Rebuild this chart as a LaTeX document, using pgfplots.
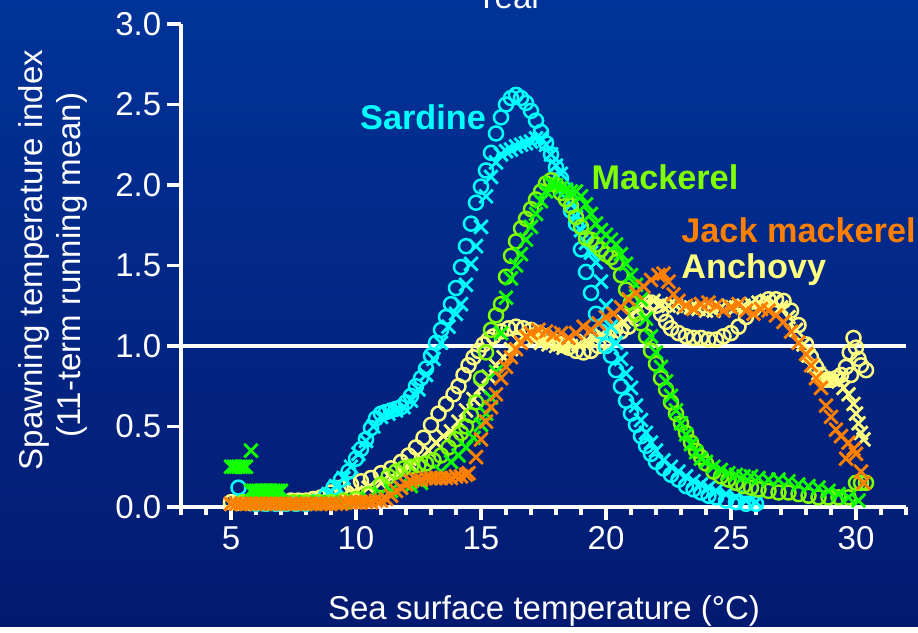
\documentclass[border=0pt]{standalone}
\usepackage{fontspec}
\setmainfont{Liberation Sans}
\usepackage{pgfplots}
\pgfplotsset{compat=1.18}
\definecolor{bgtop}{RGB}{0,51,153}
\definecolor{bgbot}{RGB}{4,26,112}
\definecolor{sard}{RGB}{0,255,255}
\definecolor{mackc}{RGB}{128,255,0}
\definecolor{mackx}{RGB}{20,255,0}
\definecolor{jack}{RGB}{255,128,0}
\definecolor{anch}{RGB}{255,255,128}
\newcommand{\tfont}{\fontsize{18.8}{23}\selectfont}
\newcommand{\lfont}{\fontsize{19.5}{23}\selectfont\bfseries}
\pgfplotsset{
  circ/.style={only marks, mark=o, mark size=4.0pt, line width=1.4pt},
  crs/.style={only marks, mark=x, mark size=5.4pt, line width=1.6pt},
}
\begin{document}
\begin{tikzpicture}
\shade[top color=bgtop, bottom color=bgbot] (0,0) rectangle (18.36,12.54);
\begin{axis}[
  at={(3.62cm,2.40cm)}, anchor=south west,
  scale only axis, width=14.5cm, height=9.66cm,
  xmin=3, xmax=32, ymin=0, ymax=3,
  axis lines*=left,
  axis line style={white, line width=2pt, -},
  xtick={5,10,...,30}, minor xtick={3,4,...,32},
  ytick={0,0.5,...,3.0},
  tick align=outside,
  major tick length=0.27cm, minor tick length=0.17cm,
  tick style={white, line width=2pt},
  minor tick style={white, line width=2pt},
  ticklabel style={white, font=\tfont},
  /pgf/number format/assume math mode=true,
  yticklabel style={/pgf/number format/.cd, fixed, fixed zerofill, precision=1},
  clip=false,
  mark options={solid},
]
\draw[white, line width=2pt] (axis cs:3,1) -- (axis cs:32,1);
% Anchovy circles
\addplot[circ, anch] coordinates {
(5.0,0.03)(5.3,0.03)(5.6,0.03)(5.9,0.03)(6.2,0.03)(6.5,0.03)(6.8,0.03)(7.1,0.03)(7.4,0.04)(7.7,0.04)(8.0,0.04)(8.3,0.05)(8.6,0.06)(9.0,0.09)(9.4,0.12)(9.8,0.14)
(10.2,0.16)(10.6,0.18)(11.0,0.21)(11.4,0.24)(11.8,0.28)(12.1,0.32)(12.4,0.37)(12.7,0.43)(13.0,0.51)(13.3,0.58)
(13.6,0.64)(13.9,0.70)(14.1,0.75)(14.3,0.82)(14.5,0.88)(14.7,0.93)(14.9,0.97)(15.1,1.01)(15.3,1.04)(15.5,1.06)
(15.8,1.09)(16.1,1.11)(16.4,1.12)(16.7,1.11)(17.0,1.10)(17.3,1.08)(17.6,1.06)(17.9,1.03)(18.2,1.01)(18.5,0.99)
(18.8,0.97)(19.1,0.96)(19.4,0.97)(19.7,1.00)(20.0,1.03)(20.3,1.06)(20.6,1.09)(20.9,1.12)(21.2,1.17)(21.5,1.23)
(21.8,1.27)(22.0,1.25)(22.2,1.20)(22.4,1.15)(22.6,1.11)(22.9,1.08)(23.2,1.06)(23.5,1.05)(23.8,1.05)(24.1,1.04)
(24.4,1.04)(24.7,1.06)(25.0,1.08)(25.3,1.12)(25.6,1.18)(25.9,1.23)(26.2,1.27)(26.5,1.29)(26.8,1.29)(27.1,1.28)
(27.4,1.22)(27.7,1.13)(28.0,1.01)(28.2,0.93)(28.4,0.87)(28.6,0.82)(28.8,0.79)(29.0,0.79)(29.2,0.80)(29.4,0.82)
(29.6,0.87)(29.75,0.96)(29.9,1.05)(30.0,0.99)(30.1,0.92)(30.2,0.88)(30.4,0.85)(29.8,0.82)
};
% Anchovy crosses
\addplot[crs, anch] coordinates {
(5.0,0.02)(5.5,0.02)(6.0,0.02)(6.5,0.02)(7.0,0.03)(7.5,0.03)(8.0,0.03)(8.5,0.04)(9.0,0.05)(9.5,0.07)(10.0,0.09)
(10.5,0.12)(11.0,0.15)(11.4,0.18)(11.8,0.22)(12.2,0.26)(12.6,0.30)(12.9,0.35)(13.2,0.40)(13.5,0.44)(13.8,0.47)
(14.1,0.53)(14.4,0.60)(14.7,0.67)(15.0,0.74)(15.3,0.81)(15.6,0.88)(15.9,0.93)(16.2,0.98)(16.5,1.03)(16.8,1.05)
(17.1,1.04)(17.4,1.02)(17.7,1.01)(18.0,1.00)(18.3,0.99)(18.6,1.00)(18.9,1.01)(19.2,1.03)(19.5,1.05)(19.8,1.07)
(20.1,1.09)(20.4,1.12)(20.7,1.15)(21.0,1.19)(21.3,1.23)(21.6,1.27)(21.9,1.28)(22.2,1.26)(22.5,1.25)(22.8,1.25)
(23.1,1.24)(23.4,1.24)(23.7,1.23)(24.0,1.22)(24.3,1.22)(24.6,1.24)(24.9,1.25)(25.2,1.24)(25.5,1.25)(25.8,1.26)
(26.1,1.27)(26.4,1.28)(26.7,1.27)(27.0,1.24)(27.3,1.18)(27.6,1.10)(27.9,1.01)(28.1,0.94)(28.3,0.88)(28.5,0.83)
(28.7,0.80)(28.9,0.79)(29.1,0.79)(29.3,0.78)(29.5,0.74)(29.7,0.70)(29.9,0.64)(30.0,0.58)(30.1,0.52)(30.2,0.46)(30.3,0.42)
};
% Sardine circles
\addplot[circ, sard] coordinates {
(5.3,0.12)(5.6,0.03)(6.0,0.02)(6.4,0.02)(6.8,0.02)(7.2,0.02)(7.6,0.02)(8.0,0.02)(8.4,0.03)(8.8,0.07)(9.1,0.12)
(9.4,0.17)(9.7,0.22)(10.0,0.30)(10.2,0.36)(10.4,0.42)(10.6,0.49)(10.8,0.55)(11.0,0.58)(11.2,0.59)(11.4,0.60)
(11.6,0.61)(11.8,0.62)(12.0,0.65)(12.2,0.69)(12.4,0.75)(12.6,0.80)(12.8,0.86)(13.0,0.94)(13.2,1.02)(13.4,1.10)
(13.6,1.18)(13.8,1.26)(14.0,1.36)(14.2,1.49)(14.4,1.62)(14.6,1.76)(14.8,1.89)(15.0,1.99)(15.2,2.09)(15.4,2.20)
(15.6,2.32)(15.8,2.42)(16.0,2.50)(16.2,2.54)(16.4,2.56)(16.6,2.54)(16.8,2.51)(17.0,2.46)(17.2,2.40)(17.4,2.33)
(17.6,2.26)(17.8,2.19)(18.0,2.11)(18.2,2.04)(18.4,1.97)(18.6,1.84)(18.8,1.76)(19.0,1.60)(19.2,1.46)(19.4,1.33)
(19.6,1.20)(19.8,1.09)(20.0,1.00)(20.2,0.94)(20.4,0.85)(20.6,0.75)(20.8,0.66)(21.0,0.58)(21.2,0.51)(21.4,0.44)
(21.6,0.38)(21.8,0.33)(22.0,0.28)(22.3,0.24)(22.6,0.20)(22.9,0.17)(23.2,0.13)(23.5,0.11)(23.8,0.09)(24.1,0.07)
(24.4,0.06)(24.8,0.04)(25.2,0.03)(25.6,0.02)(26.0,0.02)
};
% Sardine crosses
\addplot[crs, sard] coordinates {
(5.5,0.03)(6.0,0.02)(6.5,0.02)(7.0,0.02)(7.5,0.02)(8.0,0.02)(8.5,0.03)(8.9,0.08)(9.2,0.13)(9.5,0.18)(9.8,0.25)
(10.1,0.33)(10.4,0.41)(10.7,0.50)(11.0,0.56)(11.3,0.58)(11.6,0.60)(11.9,0.62)(12.2,0.66)(12.5,0.73)(12.8,0.82)
(13.1,0.92)(13.4,1.02)(13.7,1.12)(14.0,1.20)(14.2,1.26)(14.4,1.38)(14.6,1.51)(14.8,1.62)(15.0,1.74)(15.2,1.93)
(15.4,2.05)(15.6,2.14)(15.8,2.19)(16.0,2.21)(16.2,2.22)(16.4,2.24)(16.6,2.25)(16.8,2.26)(17.0,2.27)(17.2,2.29)
(17.4,2.29)(17.6,2.25)(17.8,2.19)(18.0,2.12)(18.2,2.07)(18.4,1.97)(18.6,1.88)(18.8,1.80)(19.0,1.72)(19.2,1.64)
(19.4,1.58)(19.6,1.52)(19.8,1.40)(20.0,1.25)(20.2,1.12)(20.4,1.02)(20.6,0.92)(20.8,0.83)(21.0,0.74)(21.2,0.63)
(21.4,0.54)(21.6,0.46)(21.8,0.40)(22.0,0.35)(22.3,0.29)(22.6,0.25)(22.9,0.22)(23.2,0.19)(23.5,0.16)(23.8,0.14)
(24.1,0.12)(24.4,0.10)(24.8,0.08)(25.2,0.06)(25.6,0.04)(26.0,0.03)
};
% Mackerel circles
\addplot[circ, mackc] coordinates {
(5.5,0.03)(6.0,0.03)(6.5,0.03)(7.0,0.03)(7.5,0.03)(8.0,0.03)(8.5,0.03)(9.0,0.03)(9.5,0.04)(10.0,0.05)(10.5,0.08)
(11.0,0.14)(11.3,0.19)(11.6,0.22)(11.9,0.24)(12.2,0.25)(12.5,0.26)(12.8,0.27)(13.1,0.29)(13.4,0.32)(13.7,0.37)
(14.0,0.42)(14.2,0.46)(14.4,0.50)(14.6,0.57)(14.8,0.65)(15.0,0.80)(15.2,0.96)(15.4,1.10)(15.6,1.19)(15.8,1.26)
(16.0,1.43)(16.2,1.56)(16.4,1.65)(16.6,1.73)(16.8,1.79)(17.0,1.85)(17.2,1.91)(17.4,1.96)(17.6,2.01)(17.8,2.03)
(18.0,2.00)(18.2,1.95)(18.4,1.91)(18.6,1.87)(18.8,1.80)(19.0,1.74)(19.2,1.67)(19.4,1.66)(19.6,1.63)(19.8,1.60)
(20.0,1.57)(20.2,1.55)(20.4,1.52)(20.6,1.44)(20.8,1.35)(21.0,1.27)(21.2,1.20)(21.4,1.14)(21.6,1.06)(21.8,0.97)
(22.0,0.89)(22.2,0.80)(22.4,0.73)(22.6,0.65)(22.8,0.58)(23.0,0.52)(23.2,0.46)(23.4,0.40)(23.6,0.35)(23.8,0.31)
(24.0,0.27)(24.3,0.22)(24.6,0.19)(24.9,0.17)(25.2,0.15)(25.5,0.13)(25.8,0.12)(26.1,0.11)(26.5,0.10)(26.9,0.09)
(27.3,0.09)(27.7,0.08)(28.1,0.07)(28.5,0.06)(28.9,0.06)(29.3,0.06)(29.7,0.06)(30.0,0.15)(30.2,0.15)(30.4,0.15)
};
% Mackerel crosses
\addplot[crs, mackx] coordinates {
(5.0,0.25)(5.1,0.25)(5.2,0.25)(5.3,0.25)(5.4,0.25)(5.5,0.25)(5.6,0.25)(5.8,0.35)(5.8,0.10)(5.9,0.10)(6.0,0.10)(6.1,0.10)
(6.2,0.10)(6.3,0.10)(6.4,0.10)(6.5,0.10)(6.6,0.10)(6.7,0.10)(6.8,0.10)(6.9,0.10)(7.0,0.10)
(7.5,0.03)(8.0,0.03)(8.5,0.03)(9.0,0.03)(9.5,0.03)(10.0,0.04)(10.5,0.05)(11.0,0.08)(11.4,0.10)
(11.8,0.12)(12.2,0.13)(12.6,0.15)(13.0,0.18)(13.4,0.22)(13.8,0.28)(14.1,0.32)(14.4,0.37)(14.7,0.43)(15.0,0.51)
(15.2,0.58)(15.4,0.68)(15.6,0.84)(15.8,1.08)(16.0,1.30)(16.2,1.42)(16.4,1.50)(16.6,1.57)(16.8,1.66)(17.0,1.74)
(17.2,1.82)(17.4,1.90)(17.6,1.96)(17.8,2.01)(18.0,2.00)(18.2,1.98)(18.4,1.97)(18.6,1.96)(18.8,1.96)(19.0,1.93)
(19.2,1.88)(19.4,1.82)(19.6,1.76)(19.8,1.72)(20.0,1.69)(20.2,1.66)(20.4,1.63)(20.6,1.57)(20.8,1.51)(21.0,1.44)
(21.2,1.38)(21.4,1.29)(21.6,1.17)(21.8,1.06)(22.0,0.96)(22.2,0.87)(22.4,0.78)(22.6,0.69)(22.8,0.60)(23.0,0.52)
(23.2,0.45)(23.4,0.39)(23.6,0.34)(23.8,0.30)(24.0,0.28)(24.3,0.25)(24.6,0.23)(24.9,0.21)(25.2,0.20)(25.5,0.19)
(25.8,0.19)(26.1,0.18)(26.5,0.17)(26.9,0.17)(27.3,0.16)(27.7,0.14)(28.1,0.13)(28.5,0.12)(28.9,0.10)(29.3,0.08)
(29.7,0.06)(30.1,0.04)
};
% Jack mackerel crosses
\addplot[crs, jack] coordinates {
(5.0,0.02)(5.2,0.02)(5.4,0.02)(5.6,0.02)(5.8,0.02)(6.0,0.02)(6.2,0.02)(6.4,0.02)(6.6,0.02)(6.8,0.02)(7.0,0.02)
(7.2,0.02)(7.4,0.02)(7.6,0.02)(7.8,0.02)(8.0,0.02)(8.2,0.02)(8.4,0.02)(8.6,0.02)(8.8,0.02)(9.0,0.02)(9.2,0.02)
(9.4,0.02)(9.6,0.03)(9.8,0.03)(10.0,0.03)(10.2,0.03)(10.4,0.03)(10.6,0.03)(10.8,0.04)(11.0,0.04)(11.2,0.05)
(11.4,0.07)(11.6,0.10)(11.8,0.12)(12.0,0.14)(12.2,0.16)(12.4,0.17)(12.6,0.17)(12.8,0.18)(13.0,0.18)(13.2,0.18)
(13.4,0.18)(13.6,0.18)(13.8,0.18)(14.0,0.19)(14.2,0.19)(14.4,0.20)(14.5,0.21)(14.8,0.31)(15.0,0.42)(15.2,0.53)(15.4,0.62)(15.6,0.70)(15.8,0.80)
(16.0,0.87)(16.2,0.93)(16.4,0.98)(16.6,1.02)(16.8,1.06)(17.0,1.08)(17.3,1.10)(17.6,1.09)(17.9,1.07)(18.2,1.08)
(18.5,1.05)(18.8,1.08)(19.1,1.12)(19.4,1.10)(19.7,1.14)(20.0,1.18)(20.3,1.20)(20.6,1.24)(20.9,1.29)(21.2,1.33)
(21.5,1.37)(21.8,1.41)(22.1,1.44)(22.3,1.45)(22.5,1.40)(22.7,1.32)(22.9,1.28)(23.2,1.25)(23.5,1.23)(23.8,1.26)
(24.1,1.27)(24.4,1.25)(24.7,1.22)(25.0,1.24)(25.3,1.26)(25.6,1.22)(25.9,1.20)(26.2,1.23)(26.5,1.22)(26.8,1.19)
(27.1,1.15)(27.4,1.09)(27.7,1.02)(28.0,0.95)(28.2,0.88)(28.4,0.80)(28.6,0.74)(28.8,0.63)(29.0,0.56)(29.2,0.48)
(29.4,0.44)(29.6,0.30)(29.7,0.40)(29.9,0.36)(30.0,0.33)(30.2,0.22)(30.3,0.15)
};
\node[sard, font=\lfont] at (axis cs:12.68,2.42) {Sardine};
\node[mackc, font=\lfont] at (axis cs:22.36,2.05) {Mackerel};
\node[jack, font=\lfont, anchor=base west, inner sep=0pt, overlay] at (axis cs:23.0,1.64) {Jack mackerel};
\node[anch, font=\lfont, anchor=base west, inner sep=0pt] at (axis cs:23.0,1.42) {Anchovy};
\end{axis}
\node[white, font=\tfont, rotate=90, anchor=base] at (0.84,7.34) {Spawning temperature index};
\node[white, font=\tfont, rotate=90, anchor=base] at (1.62,7.24) {(11-term running mean)};
\node[white, font=\tfont, anchor=base] at (10.88,0.14) {Sea surface temperature (°C)};
\node[white, font=\tfont, anchor=base, overlay] at (10.18,12.36) {Year};
\end{tikzpicture}
\end{document}
